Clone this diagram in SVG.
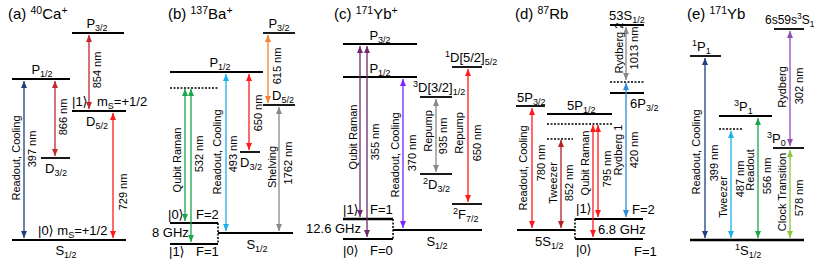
<svg xmlns="http://www.w3.org/2000/svg" width="814" height="259" viewBox="0 0 814 259">
<style>
text{font-family:"Liberation Sans",Arial,"DejaVu Sans",sans-serif;fill:#000}
.t{font-size:15px}
.l{font-size:13px}
.r{font-size:11px;dominant-baseline:central;text-anchor:middle}
.m{text-anchor:middle}
.e{text-anchor:end}
.lv{stroke:#000;stroke-width:1.8}
.tk{stroke:#000;stroke-width:2.6}
.dt{stroke:#000;stroke-width:1.5;stroke-dasharray:2 1.5}
.ar{fill:none;stroke-width:1.3}
.db{stroke:#1c3f7e}.dr{stroke:#c1272d}.rd{stroke:#ff1a1a}.gn{stroke:#1aa64a}.cy{stroke:#1ab0ef}
.or{stroke:#f4822f}.gy{stroke:#888}.pu{stroke:#6e2a6e}.vi{stroke:#7f1fff}.bl{stroke:#2d8ad6}
.dk{stroke:#b51f24}.py{stroke:#8e4fb8}.lg{stroke:#8cc63e}
</style>
<defs>
<marker id="m-db" markerUnits="userSpaceOnUse" markerWidth="7" markerHeight="6" refX="7" refY="3" orient="auto-start-reverse"><path d="M0,0L7,3L0,6Z" fill="#1c3f7e"/></marker>
<marker id="m-dr" markerUnits="userSpaceOnUse" markerWidth="7" markerHeight="6" refX="7" refY="3" orient="auto-start-reverse"><path d="M0,0L7,3L0,6Z" fill="#c1272d"/></marker>
<marker id="m-rd" markerUnits="userSpaceOnUse" markerWidth="7" markerHeight="6" refX="7" refY="3" orient="auto-start-reverse"><path d="M0,0L7,3L0,6Z" fill="#ff1a1a"/></marker>
<marker id="m-gn" markerUnits="userSpaceOnUse" markerWidth="7" markerHeight="6" refX="7" refY="3" orient="auto-start-reverse"><path d="M0,0L7,3L0,6Z" fill="#1aa64a"/></marker>
<marker id="m-cy" markerUnits="userSpaceOnUse" markerWidth="7" markerHeight="6" refX="7" refY="3" orient="auto-start-reverse"><path d="M0,0L7,3L0,6Z" fill="#1ab0ef"/></marker>
<marker id="m-or" markerUnits="userSpaceOnUse" markerWidth="7" markerHeight="6" refX="7" refY="3" orient="auto-start-reverse"><path d="M0,0L7,3L0,6Z" fill="#f4822f"/></marker>
<marker id="m-gy" markerUnits="userSpaceOnUse" markerWidth="7" markerHeight="6" refX="7" refY="3" orient="auto-start-reverse"><path d="M0,0L7,3L0,6Z" fill="#888"/></marker>
<marker id="m-pu" markerUnits="userSpaceOnUse" markerWidth="7" markerHeight="6" refX="7" refY="3" orient="auto-start-reverse"><path d="M0,0L7,3L0,6Z" fill="#6e2a6e"/></marker>
<marker id="m-vi" markerUnits="userSpaceOnUse" markerWidth="7" markerHeight="6" refX="7" refY="3" orient="auto-start-reverse"><path d="M0,0L7,3L0,6Z" fill="#7f1fff"/></marker>
<marker id="m-bl" markerUnits="userSpaceOnUse" markerWidth="7" markerHeight="6" refX="7" refY="3" orient="auto-start-reverse"><path d="M0,0L7,3L0,6Z" fill="#2d8ad6"/></marker>
<marker id="m-dk" markerUnits="userSpaceOnUse" markerWidth="7" markerHeight="6" refX="7" refY="3" orient="auto-start-reverse"><path d="M0,0L7,3L0,6Z" fill="#b51f24"/></marker>
<marker id="m-py" markerUnits="userSpaceOnUse" markerWidth="7" markerHeight="6" refX="7" refY="3" orient="auto-start-reverse"><path d="M0,0L7,3L0,6Z" fill="#8e4fb8"/></marker>
<marker id="m-lg" markerUnits="userSpaceOnUse" markerWidth="7" markerHeight="6" refX="7" refY="3" orient="auto-start-reverse"><path d="M0,0L7,3L0,6Z" fill="#8cc63e"/></marker>
</defs>
<rect width="814" height="259" fill="#fff"/>

<!-- Titles -->
<g id="titles">
<text x="8" y="19" class="t">(a) <tspan font-size="10.5" dy="-5">40</tspan><tspan dy="5">Ca</tspan><tspan font-size="10.5" dy="-5">+</tspan></text>
<text x="168" y="19" class="t">(b) <tspan font-size="10.5" dy="-5">137</tspan><tspan dy="5">Ba</tspan><tspan font-size="10.5" dy="-5">+</tspan></text>
<text x="334" y="19" class="t">(c) <tspan font-size="10.5" dy="-5">171</tspan><tspan dy="5">Yb</tspan><tspan font-size="10.5" dy="-5">+</tspan></text>
<text x="515" y="19" class="t">(d) <tspan font-size="10.5" dy="-5">87</tspan><tspan dy="5">Rb</tspan></text>
<text x="687" y="19" class="t">(e) <tspan font-size="10.5" dy="-5">171</tspan><tspan dy="5">Yb</tspan></text>
</g>

<!-- Panel a levels -->
<g id="a-P32"><line class="lv" x1="72" y1="33" x2="124" y2="33"/><text class="l m" x="97" y="28">P<tspan font-size="9" dy="3">3/2</tspan></text></g>
<g id="a-P12"><line class="lv" x1="12" y1="79" x2="70" y2="79"/><text class="l m" x="42" y="74">P<tspan font-size="9" dy="3">1/2</tspan></text></g>
<g id="a-D52"><line class="lv" x1="72" y1="111" x2="126" y2="111"/><text class="l m" x="97" y="126">D<tspan font-size="9" dy="3">5/2</tspan></text><text class="l" x="72" y="106">|1⟩</text><text class="l" x="97" y="106">m<tspan font-size="9" dy="3">S</tspan><tspan dy="-3">=+1/2</tspan></text></g>
<g id="a-D32"><line class="lv" x1="41" y1="158" x2="70" y2="158"/><text class="l m" x="56" y="173">D<tspan font-size="9" dy="3">3/2</tspan></text></g>
<g id="a-S12"><line class="lv" x1="12" y1="240" x2="126" y2="240"/><text class="l m" x="66" y="255">S<tspan font-size="9" dy="3">1/2</tspan></text><text class="l" x="38" y="235">|0⟩ m<tspan font-size="9" dy="3">S</tspan><tspan dy="-3">=+1/2</tspan></text></g>

<!-- Panel b levels -->
<g id="b-P32"><line class="lv" x1="263" y1="33" x2="295" y2="33"/><text class="l m" x="279" y="28">P<tspan font-size="9" dy="3">3/2</tspan></text></g>
<g id="b-P12"><line class="lv" x1="170" y1="72" x2="263" y2="72"/><text class="l m" x="220" y="67">P<tspan font-size="9" dy="3">1/2</tspan></text></g>
<g id="b-virt"><line class="dt" x1="170" y1="88" x2="218" y2="88"/></g>
<g id="b-D52"><line class="lv" x1="263" y1="105" x2="295" y2="105"/><text class="l m" x="283" y="100">D<tspan font-size="9" dy="3">5/2</tspan></text></g>
<g id="b-D32"><line class="lv" x1="240" y1="152" x2="260" y2="152"/><text class="l m" x="251" y="167">D<tspan font-size="9" dy="3">3/2</tspan></text></g>
<g id="b-S12"><line class="lv" x1="218" y1="233" x2="293" y2="233"/><text class="l m" x="257" y="249">S<tspan font-size="9" dy="3">1/2</tspan></text></g>
<g id="b-F2"><line class="lv" x1="170" y1="223" x2="218" y2="223"/><text class="l" x="168" y="219">|0⟩</text><text class="l" x="196" y="219">F=2</text></g>
<g id="b-F1"><line class="lv" x1="170" y1="244" x2="218" y2="244"/><text class="l" x="169" y="256">|1⟩</text><text class="l" x="196" y="256">F=1</text></g>
<g id="b-hf"><line class="dt" x1="218" y1="223" x2="218" y2="244"/><text class="l" x="152" y="237">8 GHz</text></g>

<!-- Panel c levels -->
<g id="c-P32"><line class="lv" x1="343" y1="44" x2="417" y2="44"/><text class="l m" x="380" y="40">P<tspan font-size="9" dy="3">3/2</tspan></text></g>
<g id="c-P12"><line class="lv" x1="343" y1="77" x2="417" y2="77"/><text class="l m" x="380" y="73">P<tspan font-size="9" dy="3">1/2</tspan></text></g>
<g id="c-1D"><line class="lv" x1="452" y1="67" x2="482" y2="67"/><text class="l" x="445" y="62"><tspan font-size="9" dy="-5">1</tspan><tspan dy="5">D[5/2]</tspan><tspan font-size="9" dy="3">5/2</tspan></text></g>
<g id="c-3D"><line class="lv" x1="420" y1="97" x2="452" y2="97"/><text class="l" x="413" y="92"><tspan font-size="9" dy="-5">3</tspan><tspan dy="5">D[3/2]</tspan><tspan font-size="9" dy="3">1/2</tspan></text></g>
<g id="c-2D"><line class="lv" x1="420" y1="174" x2="452" y2="174"/><text class="l" x="423" y="189"><tspan font-size="9" dy="-5">2</tspan><tspan dy="5">D</tspan><tspan font-size="9" dy="3">3/2</tspan></text></g>
<g id="c-2F"><line class="lv" x1="452" y1="204" x2="482" y2="204"/><text class="l" x="453" y="219"><tspan font-size="9" dy="-5">2</tspan><tspan dy="5">F</tspan><tspan font-size="9" dy="3">7/2</tspan></text></g>
<g id="c-S12"><line class="lv" x1="393" y1="230" x2="482" y2="230"/><text class="l m" x="437" y="246">S<tspan font-size="9" dy="3">1/2</tspan></text></g>
<g id="c-F1"><line class="tk" x1="343" y1="219" x2="393" y2="219"/><text class="l" x="343" y="214">|1⟩</text><text class="l" x="370" y="214">F=1</text></g>
<g id="c-F0"><line class="lv" x1="343" y1="239" x2="393" y2="239"/><text class="l" x="343" y="255">|0⟩</text><text class="l" x="370" y="255">F=0</text></g>
<g id="c-hf"><line class="dt" x1="393" y1="219" x2="393" y2="239"/><text class="l e" x="361" y="233">12.6 GHz</text></g>

<!-- Panel d levels -->
<g id="d-53S"><line class="lv" x1="610" y1="25" x2="644" y2="25"/><text class="l" x="609" y="20">53S<tspan font-size="9" dy="3">1/2</tspan></text></g>
<g id="d-virtR"><line class="dt" x1="610" y1="82" x2="644" y2="82"/></g>
<g id="d-6P"><line class="lv" x1="610" y1="93" x2="644" y2="93"/><text class="l" x="630" y="108">6P<tspan font-size="9" dy="3">3/2</tspan></text></g>
<g id="d-5P32"><line class="lv" x1="516" y1="106" x2="545" y2="106"/><text class="l" x="517" y="102">5P<tspan font-size="9" dy="3">3/2</tspan></text></g>
<g id="d-5P12"><line class="lv" x1="547" y1="114" x2="612" y2="114"/><text class="l" x="567" y="110">5P<tspan font-size="9" dy="3">1/2</tspan></text></g>
<g id="d-virtQ"><line class="dt" x1="547" y1="124" x2="612" y2="124"/></g>
<g id="d-virtT"><line class="dt" x1="547" y1="139" x2="573" y2="139"/></g>
<g id="d-5S"><line class="lv" x1="517" y1="230" x2="575" y2="230"/><text class="l" x="535" y="246">5S<tspan font-size="9" dy="3">1/2</tspan></text></g>
<g id="d-F2"><line class="lv" x1="575" y1="219" x2="643" y2="219"/><text class="l" x="576" y="213">|1⟩</text><text class="l" x="632" y="214">F=2</text></g>
<g id="d-F1"><line class="lv" x1="575" y1="239" x2="643" y2="239"/><text class="l" x="576" y="254">|0⟩</text><text class="l" x="634" y="256">F=1</text></g>
<g id="d-hf"><line class="dt" x1="575" y1="219" x2="575" y2="239"/><text class="l" x="598" y="234">6.8 GHz</text></g>

<!-- Panel e levels -->
<g id="e-Ryd"><line class="lv" x1="774" y1="29" x2="804" y2="29"/><text x="765" y="24" font-size="12">6s59s<tspan font-size="8.5" dy="-5">3</tspan><tspan dy="5">S</tspan><tspan font-size="8.5" dy="3">1</tspan></text></g>
<g id="e-1P1"><line class="lv" x1="690" y1="56" x2="721" y2="56"/><text class="l" x="692" y="51"><tspan font-size="9" dy="-5">1</tspan><tspan dy="5">P</tspan><tspan font-size="9" dy="3">1</tspan></text></g>
<g id="e-3P1"><line class="lv" x1="719" y1="116" x2="772" y2="116"/><text class="l" x="734" y="111"><tspan font-size="9" dy="-5">3</tspan><tspan dy="5">P</tspan><tspan font-size="9" dy="3">1</tspan></text></g>
<g id="e-virt"><line class="dt" x1="719" y1="129" x2="742" y2="129"/></g>
<g id="e-3P0"><line class="lv" x1="773" y1="148" x2="804" y2="148"/><text class="l" x="767" y="143"><tspan font-size="9" dy="-5">3</tspan><tspan dy="5">P</tspan><tspan font-size="9" dy="3">0</tspan></text></g>
<g id="e-1S"><line class="tk" x1="690" y1="240" x2="804" y2="240"/><text class="l" x="735" y="255"><tspan font-size="9" dy="-5">1</tspan><tspan dy="5">S</tspan><tspan font-size="9" dy="3">1/2</tspan></text></g>

<!-- Connectors -->
<g id="connectors">
<!-- a -->
<line class="ar db" x1="24" y1="81" x2="24" y2="238" marker-start="url(#m-db)" marker-end="url(#m-db)"/>
<text class="r" fill="#1c3f7e" transform="translate(16,158) rotate(-90)">Readout, Cooling</text>
<text class="r" fill="#1c3f7e" transform="translate(32,149) rotate(-90)">397 nm</text>
<line class="ar dr" x1="55" y1="81" x2="55" y2="156" marker-start="url(#m-dr)" marker-end="url(#m-dr)"/>
<text class="r" fill="#c1272d" transform="translate(63,117) rotate(-90)">866 nm</text>
<line class="ar dr" x1="89" y1="35" x2="89" y2="109" marker-start="url(#m-dr)" marker-end="url(#m-dr)"/>
<text class="r" fill="#c1272d" transform="translate(97,70) rotate(-90)">854 nm</text>
<line class="ar rd" stroke-width="2" x1="113" y1="113" x2="113" y2="238" marker-start="url(#m-rd)" marker-end="url(#m-rd)"/>
<text class="r" fill="#ff1a1a" transform="translate(123,192) rotate(-90)">729 nm</text>
<!-- b -->
<line class="ar gn" x1="185" y1="89" x2="185" y2="221" marker-start="url(#m-gn)" marker-end="url(#m-gn)"/>
<line class="ar gn" x1="191" y1="89" x2="191" y2="242" marker-start="url(#m-gn)" marker-end="url(#m-gn)"/>
<text class="r" fill="#1aa64a" transform="translate(177,160) rotate(-90)">Qubit Raman</text>
<text class="r" fill="#1aa64a" transform="translate(199,154) rotate(-90)">532 nm</text>
<line class="ar cy" x1="226" y1="74" x2="226" y2="231" marker-start="url(#m-cy)" marker-end="url(#m-cy)"/>
<text class="r" fill="#1ab0ef" transform="translate(217,152) rotate(-90)">Readout, Cooling</text>
<text class="r" fill="#1ab0ef" transform="translate(233,154) rotate(-90)">493 nm</text>
<line class="ar rd" x1="249" y1="74" x2="249" y2="150" marker-start="url(#m-rd)" marker-end="url(#m-rd)"/>
<text class="r" fill="#ff1a1a" transform="translate(258,113) rotate(-90)">650 nm</text>
<line class="ar or" x1="268" y1="35" x2="268" y2="103" marker-start="url(#m-or)" marker-end="url(#m-or)"/>
<text class="r" fill="#f4822f" transform="translate(277,66) rotate(-90)">615 nm</text>
<line class="ar gy" x1="279" y1="107" x2="279" y2="231" marker-start="url(#m-gy)" marker-end="url(#m-gy)"/>
<text class="r" fill="#888" transform="translate(272,167) rotate(-90)">Shelving</text>
<text class="r" fill="#888" transform="translate(288,163) rotate(-90)">1762 nm</text>
<!-- c -->
<line class="ar pu" x1="360" y1="46" x2="360" y2="217" marker-start="url(#m-pu)" marker-end="url(#m-pu)"/>
<line class="ar pu" x1="367" y1="46" x2="367" y2="237" marker-start="url(#m-pu)" marker-end="url(#m-pu)"/>
<text class="r" fill="#6e2a6e" transform="translate(353,137) rotate(-90)">Qubit Raman</text>
<text class="r" fill="#6e2a6e" transform="translate(375,142) rotate(-90)">355 nm</text>
<line class="ar vi" x1="403" y1="79" x2="403" y2="228" marker-start="url(#m-vi)" marker-end="url(#m-vi)"/>
<text class="r" fill="#7f1fff" transform="translate(395,155) rotate(-90)">Readout, Cooling</text>
<text class="r" fill="#7f1fff" transform="translate(412,153) rotate(-90)">370 nm</text>
<line class="ar gy" x1="436" y1="99" x2="436" y2="172" marker-start="url(#m-gy)" marker-end="url(#m-gy)"/>
<text class="r" fill="#999" transform="translate(428,131) rotate(-90)">Repump</text>
<text class="r" fill="#999" transform="translate(443,136) rotate(-90)">935 nm</text>
<line class="ar rd" x1="468" y1="69" x2="468" y2="202" marker-start="url(#m-rd)" marker-end="url(#m-rd)"/>
<text class="r" fill="#ff1a1a" transform="translate(459,133) rotate(-90)">Repump</text>
<text class="r" fill="#ff1a1a" transform="translate(477,143) rotate(-90)">650 nm</text>
<!-- d -->
<line class="ar rd" x1="532" y1="108" x2="532" y2="228" marker-start="url(#m-rd)" marker-end="url(#m-rd)"/>
<text class="r" fill="#ff1a1a" transform="translate(523,168) rotate(-90)">Readout, Cooling</text>
<text class="r" fill="#ff1a1a" transform="translate(541,163) rotate(-90)">780 nm</text>
<line class="ar dk" x1="561" y1="140" x2="561" y2="228" marker-start="url(#m-dk)" marker-end="url(#m-dk)"/>
<text class="r" fill="#b51f24" transform="translate(553,183) rotate(-90)">Tweezer</text>
<text class="r" fill="#b51f24" transform="translate(569,183) rotate(-90)">852 nm</text>
<line class="ar rd" x1="593" y1="125" x2="593" y2="237" marker-start="url(#m-rd)" marker-end="url(#m-rd)"/>
<line class="ar rd" x1="598" y1="125" x2="598" y2="217" marker-start="url(#m-rd)" marker-end="url(#m-rd)"/>
<text class="r" fill="#ff1a1a" transform="translate(585,163) rotate(-90)">Qubit Raman</text>
<text class="r" fill="#ff1a1a" transform="translate(607,169) rotate(-90)">795 nm</text>
<line class="ar bl" x1="626" y1="83" x2="626" y2="217" marker-start="url(#m-bl)" marker-end="url(#m-bl)"/>
<text class="r" fill="#2d8ad6" transform="translate(618,150) rotate(-90)">Rydberg 1</text>
<text class="r" fill="#2d8ad6" transform="translate(634,150) rotate(-90)">420 nm</text>
<line class="ar gy" x1="626" y1="27" x2="626" y2="80" marker-start="url(#m-gy)" marker-end="url(#m-gy)"/>
<text class="r" fill="#999" transform="translate(619,48) rotate(-90)">Rydberg 2</text>
<text class="r" fill="#999" transform="translate(634,48) rotate(-90)">1013 nm</text>
<!-- e -->
<line class="ar db" x1="705" y1="58" x2="705" y2="238" marker-start="url(#m-db)" marker-end="url(#m-db)"/>
<text class="r" fill="#1c3f7e" transform="translate(696,152) rotate(-90)">Readout, Cooling</text>
<text class="r" fill="#1c3f7e" transform="translate(714,163) rotate(-90)">399 nm</text>
<line class="ar cy" x1="731" y1="131" x2="731" y2="238" marker-start="url(#m-cy)" marker-end="url(#m-cy)"/>
<text class="r" fill="#1ab0ef" transform="translate(723,197) rotate(-90)">Tweezer</text>
<text class="r" fill="#1ab0ef" transform="translate(740,179) rotate(-90)">487 nm</text>
<line class="ar gn" x1="758" y1="118" x2="758" y2="238" marker-start="url(#m-gn)" marker-end="url(#m-gn)"/>
<text class="r" fill="#1aa64a" transform="translate(750,170) rotate(-90)">Readout</text>
<text class="r" fill="#1aa64a" transform="translate(767,176) rotate(-90)">556 nm</text>
<line class="ar py" x1="790" y1="31" x2="790" y2="146" marker-start="url(#m-py)" marker-end="url(#m-py)"/>
<text class="r" fill="#8e4fb8" transform="translate(782,87) rotate(-90)">Rydberg</text>
<text class="r" fill="#8e4fb8" transform="translate(799,86) rotate(-90)">302 nm</text>
<line class="ar lg" x1="790" y1="150" x2="790" y2="238" marker-start="url(#m-lg)" marker-end="url(#m-lg)"/>
<text class="r" fill="#8cc63e" transform="translate(782,192) rotate(-90)">Clock Transition</text>
<text class="r" fill="#8cc63e" transform="translate(799,198) rotate(-90)">578 nm</text>
</g>
</svg>
